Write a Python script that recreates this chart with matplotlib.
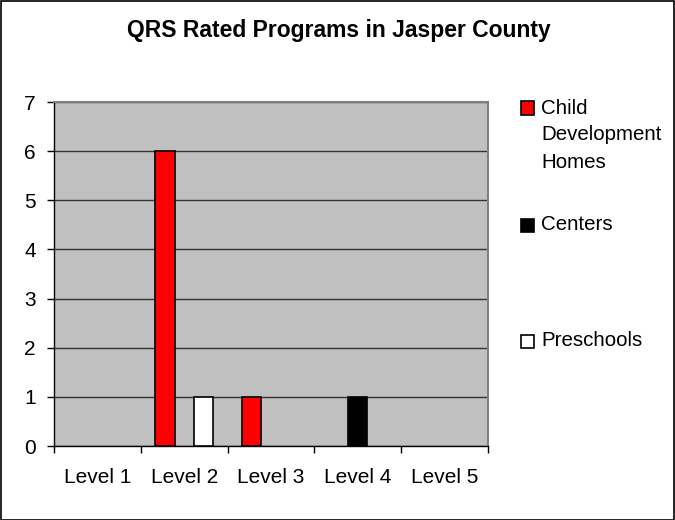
import numpy as np
import matplotlib
matplotlib.use("Agg")
import matplotlib.pyplot as plt
from matplotlib.patches import Rectangle

plt.rcParams['font.family'] = ['Liberation Sans', 'DejaVu Sans']

# data
levels = ["Level 1", "Level 2", "Level 3", "Level 4", "Level 5"]
series_names = ["Child\nDevelopment\nHomes", "Centers", "Preschools"]
cdh = [0, 6, 1, 0, 0]
centers = [0, 0, 0, 1, 0]
preschools = [0, 1, 0, 0, 0]
series_vals = [cdh, centers, preschools]
series_cols = ["#ff0000", "#000000", "#ffffff"]

W, H = 675, 520
fig = plt.figure(figsize=(W / 100, H / 100), dpi=100)
fig.patch.set_facecolor("white")
# outer frame
fig.patches.append(Rectangle((0.5 / W, 0.5 / H), 1 - 1.5 / W, 1 - 1.5 / H,
                             transform=fig.transFigure, fill=False,
                             edgecolor="black", lw=1.2))

L, R, T, B = 54, 488, 102, 446
ax = fig.add_axes([L / W, 1 - B / H, (R - L) / W, (B - T) / H])
ax.set_facecolor("#c0c0c0")

x = np.arange(len(levels))
bw = 1 / 4.5
for i, (vals, col) in enumerate(zip(series_vals, series_cols)):
    vals = np.array(vals)
    nz = vals > 0  # excel draws nothing for zero bars
    ax.bar(x[nz] + (i - 1) * bw, vals[nz], width=bw, color=col,
           edgecolor="black", linewidth=1.2, zorder=3)

ax.set_xlim(-0.5, len(levels) - 0.5)
ax.set_ylim(0, 7)
ax.set_yticks(range(0, 8))
ax.yaxis.grid(True, color="#333333", lw=1.0, zorder=0)
ax.set_axisbelow(True)

# category boundaries as major ticks, labels at centres
ax.set_xticks(np.arange(-0.5, len(levels)))
ax.set_xticklabels([])
ax.set_xticks(x, minor=True)
ax.set_xticklabels(levels, minor=True)
ax.tick_params(axis="x", which="major", length=5, width=1, color="black")
ax.tick_params(axis="x", which="minor", length=0, pad=16, labelsize=15)
ax.tick_params(axis="y", length=5, width=1, pad=8, labelsize=15)

for s in ["top", "right"]:
    ax.spines[s].set_color("#808080")
    ax.spines[s].set_linewidth(1.5)
for s in ["left", "bottom"]:
    ax.spines[s].set_color("black")
    ax.spines[s].set_linewidth(1.0)

fig.text(339 / W, 1 - 31 / H, "QRS Rated Programs in Jasper County",
         ha="center", va="center", fontsize=16.5, fontweight="bold")

# legend, placed like the original
leg_y = [108, 225, 341]
for name, col, yc in zip(series_names, series_cols, leg_y):
    fig.patches.append(Rectangle((521 / W, 1 - (yc + 6.5) / H), 13 / W, 13 / H,
                                 transform=fig.transFigure, facecolor=col,
                                 edgecolor="black", lw=1.2))
    for k, line in enumerate(name.split("\n")):
        fig.text(541 / W, 1 - (yc + k * 27) / H, line, ha="left",
                 va="center", fontsize=14.8)

fig.savefig("out.png", dpi=100)
